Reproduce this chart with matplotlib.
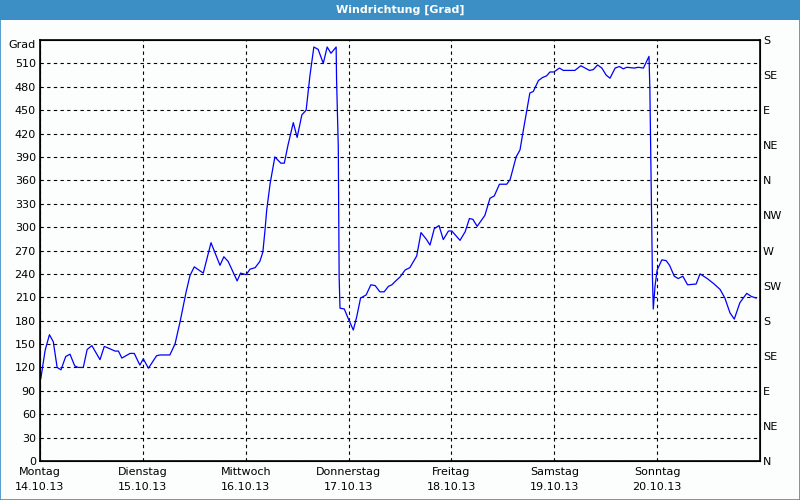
import numpy as np
import matplotlib.pyplot as plt
from matplotlib.patches import Rectangle

# hours since Montag 00:00, wind direction in degrees
hours = [0.2, 1.2, 2.2, 3.1, 4.0, 4.9, 6.0, 7.0, 8.1, 8.9, 10.1, 11.0, 12.1, 14.0,
         15.0, 16.3, 17.5, 18.3, 19.1, 21.0, 22.0, 23.3, 24.1, 25.3, 27.2, 28.0,
         30.3, 31.5, 32.7, 34.1, 35.0, 36.0, 37.3, 38.1, 39.9, 42.0, 42.9, 43.9,
         46.0, 46.8, 48.1, 49.0, 50.2, 51.3, 52.0, 52.5, 52.9, 53.7, 54.8, 55.5,
         56.2, 57.0, 57.9, 59.1, 60.0, 61.1, 62.1, 63.0, 63.9, 64.9, 66.1, 67.0,
         67.9, 69.1, 69.2, 69.6, 69.8, 70.0, 71.0, 71.9, 73.1, 73.9, 74.8, 76.1,
         77.2, 78.2, 79.3, 80.3, 81.3, 82.1, 83.0, 84.0, 85.2, 86.3, 87.9, 88.9,
         90.2, 91.0, 92.0, 93.1, 94.1, 95.3, 96.1, 98.0, 99.2, 100.2, 101.0, 102.0,
         103.8, 105.0, 106.0, 107.2, 108.9, 109.7, 110.8, 111.1, 112.0, 112.8,
         113.6, 114.3, 115.1, 116.3, 117.3, 118.2, 119.0, 119.9, 121.2, 122.1,
         124.8, 126.2, 128.2, 129.1, 130.1, 131.1, 132.1, 133.0, 134.2, 135.2,
         136.1, 136.9, 138.7, 139.6, 140.8, 142.1, 142.3, 142.5, 142.7, 142.9,
         143.1, 143.5, 144.0, 145.1, 146.1, 146.9, 148.0, 148.9, 150.0, 151.1,
         153.1, 154.0, 155.7, 157.3, 158.7, 159.8, 161.0, 162.0, 163.3, 164.9,
         166.0, 167.1]
grad = [106, 142, 162, 153, 120, 117, 134, 137, 122, 120, 120, 143, 148, 130,
        147, 144, 141, 141, 132, 138, 138, 123, 131, 119, 135, 136,
        136, 150, 179, 217, 238, 249, 244, 241, 280, 251, 262, 256,
        231, 241, 239, 246, 248, 256, 268, 296, 322, 356, 390, 386,
        382, 382, 406, 434, 415, 444, 450, 495, 531, 528, 510, 531,
        523, 531, 489, 403, 236, 196, 195, 183, 168, 185, 209, 213,
        226, 225, 217, 217, 224, 226, 231, 236, 245, 248, 263, 293,
        284, 277, 298, 302, 284, 295, 295, 283, 294, 311, 310, 301,
        315, 337, 340, 355, 355, 361, 384, 390, 399, 425,
        450, 472, 474, 488, 492, 494, 499, 499, 504, 501,
        501, 507, 501, 502, 508, 504, 495, 491, 504, 506,
        503, 505, 504, 505, 504, 519, 478, 399, 318, 236,
        195, 224, 245, 258, 257, 251, 237, 234, 237, 226,
        227, 240, 234, 227, 220, 209, 190, 182, 203, 215,
        211, 209]

day_labels = ['Montag\n14.10.13', 'Dienstag\n15.10.13', 'Mittwoch\n16.10.13',
              'Donnerstag\n17.10.13', 'Freitag\n18.10.13', 'Samstag\n19.10.13',
              'Sonntag\n20.10.13']
compass = ['N', 'NE', 'E', 'SE', 'S', 'SW', 'W', 'NW', 'N', 'NE', 'E', 'SE', 'S']

blue_bar = '#3b8fc4'
plt.rcParams['font.family'] = 'DejaVu Sans'
plt.rcParams['font.size'] = 8

fig = plt.figure(figsize=(8, 5), dpi=100, facecolor='#fcfdfd')
fig.patches.append(Rectangle((0, 0.96), 1, 0.04, transform=fig.transFigure,
                             facecolor=blue_bar, edgecolor='none', zorder=0))
fig.patches.append(Rectangle((0.0006, 0.001), 0.9988, 0.998, transform=fig.transFigure,
                             facecolor='none', edgecolor=blue_bar, linewidth=1.2, zorder=5))
fig.text(0.5, 0.98, 'Windrichtung [Grad]', color='white', fontweight='bold',
         ha='center', va='center', fontsize=8)

ax = fig.add_axes([0.05, 0.078, 0.90, 0.842])
ax.set_facecolor('#fcfdfd')
ax.plot(hours, grad, color='#0000ff', linewidth=0.9, zorder=3)

ax.set_xlim(0, 168)
ax.set_ylim(0, 540)
ax.set_yticks(np.arange(0, 540, 30))
ax.set_xticks(np.arange(0, 168, 24))
ax.set_xticklabels(day_labels, linespacing=1.7)
ax.tick_params(axis='both', length=0, colors='black')
ax.tick_params(axis='x', pad=4)
ax.tick_params(axis='y', pad=3)
ax.grid(True, color='black', linestyle=(0, (3, 3)), linewidth=0.8)
for s in ax.spines.values():
    s.set_linewidth(1.2)
ax.text(-0.006, 540, 'Grad', transform=ax.get_yaxis_transform(),
        ha='right', va='top', fontsize=8)

ax2 = ax.twinx()
ax2.set_ylim(0, 540)
ax2.set_yticks(np.arange(0, 541, 45))
ax2.set_yticklabels(compass)
ax2.tick_params(axis='y', length=0, pad=2)

fig.savefig('out.png', dpi=100, facecolor=fig.get_facecolor())
